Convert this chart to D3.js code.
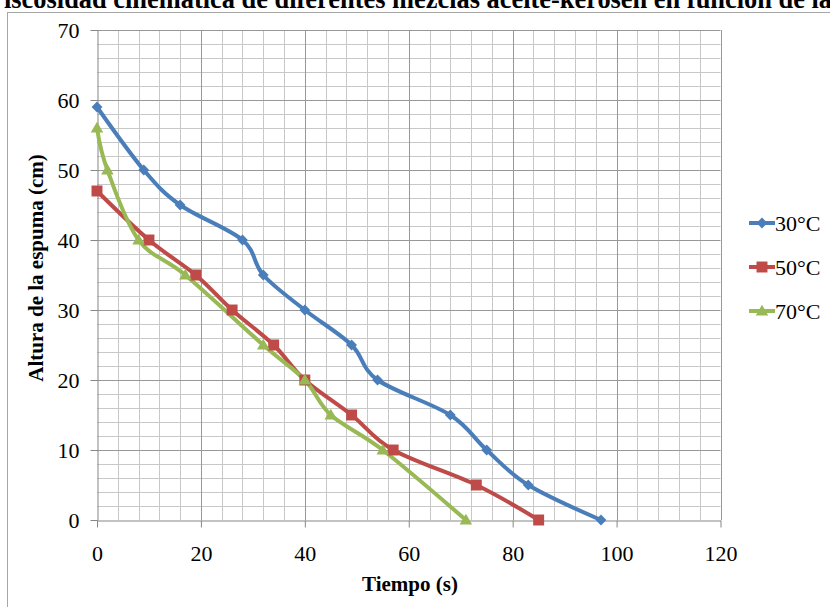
<!DOCTYPE html>
<html><head><meta charset="utf-8">
<script src="https://cdn.jsdelivr.net/npm/d3@7"></script>
<style>body{margin:0;background:#fff;overflow:hidden}svg{display:block;font-family:'Liberation Serif','Times New Roman',serif}</style>
</head><body>
<svg id="c" width="830" height="607"></svg>
<script>
const seriesNames = ["30°C", "50°C", "70°C"];
const t30 = [0, 9, 16, 28, 32, 40, 49, 54, 68, 75, 83, 97];
const h30 = [59, 50, 45, 40, 35, 30, 25, 20, 15, 10, 5, 0];
const t50 = [0, 10, 19, 26, 34, 40, 49, 57, 73, 85];
const h50 = [47, 40, 35, 30, 25, 20, 15, 10, 5, 0];
const t70 = [0, 2, 8, 17, 32, 40, 45, 55, 71];
const h70 = [56, 50, 40, 35, 25, 20, 15, 10, 0];
const xTicks = [0, 20, 40, 60, 80, 100, 120];
const yTicks = [0, 10, 20, 30, 40, 50, 60, 70];
const titleText = "Viscosidad cinemática de diferentes mezclas aceite-kerosén en función de la temperatura";
const xTitle = "Tiempo (s)";
const yTitle = "Altura de la espuma (cm)";

const colors = ["#4A7EBB", "#BE4B48", "#98B954"];
const symbols = [d3.symbolDiamond2, d3.symbolSquare, d3.symbolTriangle];
const symSizes = [75, 120, 68];
const series = [[t30, h30], [t50, h50], [t70, h70]].map((s, i) => ({
  name: seriesNames[i], color: colors[i], symbol: symbols[i], size: symSizes[i],
  pts: s[0].map((t, j) => [t, s[1][j]])
}));

const svg = d3.select("#c");
const font = "'Liberation Serif','Times New Roman',serif";

// outer frame
svg.append("rect").attr("x", 7.5).attr("y", 12.5).attr("width", 900).attr("height", 700)
  .attr("fill", "none").attr("stroke", "#a6a6a6").attr("stroke-width", 1);

// title
const titleSize = 26.4;
const tt = svg.append("text").attr("y", 7.5).style("font-family", font).attr("font-weight", "bold")
  .attr("font-size", titleSize).attr("fill", "#000").text(titleText);
const tmp = svg.append("text").style("font-family", font).attr("font-weight", "bold").attr("font-size", titleSize).text("V");
const vw = tmp.node().getComputedTextLength(); tmp.remove();
tt.attr("x", 5 - vw);

const x = d3.scaleLinear().domain([0, 120]).range([97, 720.5]);
const y = d3.scaleLinear().domain([0, 70]).range([520, 30]);

const g = svg.append("g");
// minor grid
g.selectAll(".vmin").data(d3.range(0, 121, 4).filter(v => v % 20 !== 0)).join("line")
  .attr("x1", d => Math.round(x(d)) + 0.5).attr("x2", d => Math.round(x(d)) + 0.5)
  .attr("y1", y(70)).attr("y2", y(0)).attr("stroke", "#c8c8c8").attr("stroke-width", 1);
g.selectAll(".hmin").data(d3.range(0, 71, 2).filter(v => v % 10 !== 0)).join("line")
  .attr("y1", d => Math.round(y(d)) + 0.5).attr("y2", d => Math.round(y(d)) + 0.5)
  .attr("x1", x(0)).attr("x2", x(120)).attr("stroke", "#c8c8c8").attr("stroke-width", 1);
// major grid
g.selectAll(".vmaj").data(xTicks.slice(1)).join("line")
  .attr("x1", d => Math.round(x(d)) + 0.5).attr("x2", d => Math.round(x(d)) + 0.5)
  .attr("y1", y(70)).attr("y2", y(0)).attr("stroke", "#989898").attr("stroke-width", 1);
g.selectAll(".hmaj").data(yTicks.slice(1)).join("line")
  .attr("y1", d => Math.round(y(d)) + 0.5).attr("y2", d => Math.round(y(d)) + 0.5)
  .attr("x1", x(0)).attr("x2", x(120)).attr("stroke", "#989898").attr("stroke-width", 1);

// axes
const xAxis = svg.append("g").attr("transform", `translate(0,${Math.round(y(0)) + 0.5})`)
  .call(d3.axisBottom(x).tickValues(xTicks).tickSize(7).tickPadding(18).tickSizeOuter(0));
const yAxis = svg.append("g").attr("transform", `translate(${Math.round(x(0)) + 0.5},0)`)
  .call(d3.axisLeft(y).tickValues(yTicks).tickSize(7).tickPadding(11).tickSizeOuter(0));
[xAxis, yAxis].forEach(a => {
  a.attr("font-family", null);
  a.select(".domain").attr("stroke", "#868686");
  a.selectAll(".tick line").attr("stroke", "#868686");
  a.selectAll("text").style("font-family", font).attr("font-size", 22).attr("fill", "#000");
});
yAxis.selectAll("text").attr("dy", "0.34em");

// axis titles
svg.append("text").attr("x", 410).attr("y", 591).attr("text-anchor", "middle")
  .style("font-family", font).attr("font-weight", "bold").attr("font-size", 21).text(xTitle);
svg.append("text").attr("transform", "translate(43,268) rotate(-90)").attr("text-anchor", "middle")
  .style("font-family", font).attr("font-weight", "bold").attr("font-size", 21).text(yTitle);

// lines
const line = d3.line().x(d => x(d[0])).y(d => y(d[1])).curve(d3.curveCardinal.tension(0));
series.forEach(s => {
  svg.append("path").datum(s.pts).attr("d", line).attr("fill", "none")
    .attr("stroke", s.color).attr("stroke-width", 4).attr("stroke-linejoin", "round");
});
series.forEach(s => {
  svg.append("g").selectAll("path").data(s.pts).join("path")
    .attr("transform", d => `translate(${x(d[0])},${y(d[1]) + (s.symbol === d3.symbolTriangle ? 1 : 0)})`)
    .attr("d", d3.symbol(s.symbol, s.size)).attr("fill", s.color);
});

// legend
const legY = [223, 267, 311];
series.forEach((s, i) => {
  const lg = svg.append("g").attr("transform", `translate(0,${legY[i]})`);
  lg.append("line").attr("x1", 749).attr("x2", 775).attr("y1", 0).attr("y2", 0)
    .attr("stroke", s.color).attr("stroke-width", 4);
  lg.append("path").attr("transform", `translate(762,${s.symbol === d3.symbolTriangle ? 1 : 0})`)
    .attr("d", d3.symbol(s.symbol, s.size)).attr("fill", s.color);
  lg.append("text").attr("x", 775).attr("y", 0).attr("dy", "0.35em").style("font-family", font)
    .attr("font-size", 22).attr("fill", "#000").text(s.name);
});
</script>
</body></html>
